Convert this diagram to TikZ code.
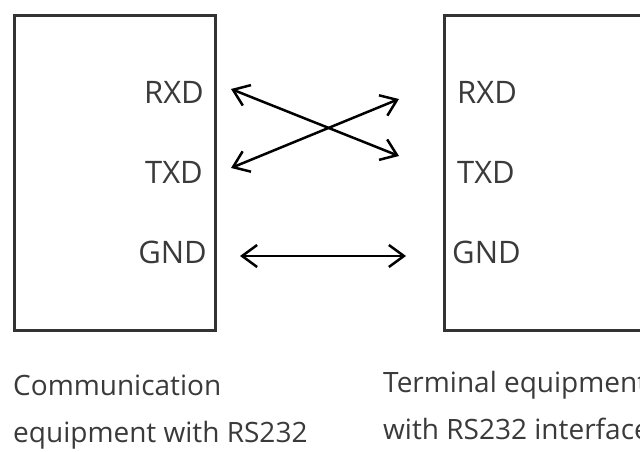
\documentclass[tikz,border=0pt]{standalone}
\usepackage{fontspec}
\setmainfont{Open Sans}
\usetikzlibrary{arrows.meta}
\definecolor{txtgray}{HTML}{3A3A3A}
\definecolor{boxgray}{HTML}{333333}
\tikzset{
  devbox/.style={draw=boxgray, line width=3pt},
  pinlbl/.style={text=txtgray, font=\fontsize{31}{34}\selectfont, inner sep=0pt},
  caplbl/.style={text=txtgray, font=\fontsize{28}{31}\selectfont, inner sep=0pt, anchor=base west},
  link/.style={line width=2.5pt, {Straight Barb[length=15pt,width=22pt]}-{Straight Barb[length=15pt,width=22pt]}}
}
\begin{document}
\begin{tikzpicture}[x=1pt,y=-1pt]
\useasboundingbox (0,0) rectangle (640,452);
\clip (0,0) rectangle (640,452);
\draw[devbox] (14,16) rectangle (215,330);
\draw[devbox] (444,16) rectangle (700,330);
\node[pinlbl, anchor=east] (lrxd) at (204,92) {RXD};
\node[pinlbl, anchor=east] (ltxd) at (203,172) {TXD};
\node[pinlbl, anchor=east] (lgnd) at (207,252) {GND};
\node[pinlbl, anchor=west] (rrxd) at (457,92) {RXD};
\node[pinlbl, anchor=west] (rtxd) at (457,172) {TXD};
\node[pinlbl, anchor=west] (rgnd) at (452,252) {GND};
\coordinate (a1) at (231,89);
\coordinate (b1) at (399,156);
\coordinate (a2) at (231,168);
\coordinate (b2) at (399,99);
\coordinate (a3) at (240,256);
\coordinate (b3) at (406,256);
\draw[link] (a1) -- (b1);
\draw[link] (a2) -- (b2);
\draw[link] (a3) -- (b3);
\node[caplbl] (cap1a) at (13,395) {Communication};
\node[caplbl] (cap1b) at (13,442) {equipment with RS232};
\node[caplbl] (cap2a) at (383,392) {Terminal equipment};
\node[caplbl] (cap2b) at (383,439) {with RS232 interface};
\end{tikzpicture}
\end{document}
